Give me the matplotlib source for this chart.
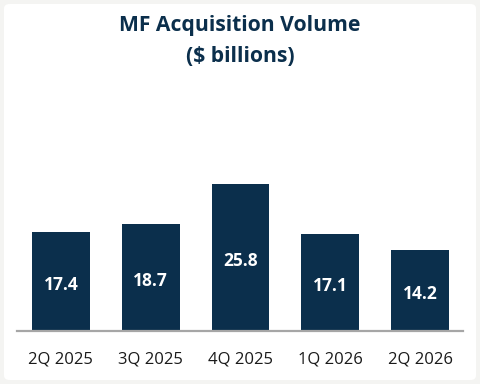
import matplotlib.pyplot as plt
from matplotlib.patches import FancyBboxPatch

quarters = ["2Q 2025", "3Q 2025", "4Q 2025", "1Q 2026", "2Q 2026"]
volume = [17.4, 18.7, 25.8, 17.1, 14.2]

navy = "#0b2f4c"
plt.rcParams['font.family'] = ['Open Sans', 'DejaVu Sans']

fig = plt.figure(figsize=(4.8, 3.84), dpi=100)
fig.patch.set_facecolor("#f4f4f2")

# white card behind the chart
card = FancyBboxPatch((4 / 480, 4 / 384), 472 / 480, 376 / 384,
                      boxstyle="round,pad=0,rounding_size=0.012",
                      transform=fig.transFigure, facecolor="white",
                      edgecolor="none", zorder=-5)
fig.patches.append(card)

fig.text(0.5, 1 - 26 / 384, "MF Acquisition Volume", ha="center", va="center",
         fontsize=15.2, fontweight="bold", color=navy)
fig.text(0.5, 1 - 57 / 384, "($ billions)", ha="center", va="center",
         fontsize=15.2, fontweight="bold", color=navy)

ax = fig.add_axes([17 / 480, 53 / 384, 446 / 480, 171 / 384])
ax.set_facecolor("none")
x = range(len(quarters))
ax.bar(x, volume, width=0.644, color=navy)
for i, v in zip(x, volume):
    ax.annotate(f"{v:.1f}", (i, v / 2), xytext=(0, -2.5), textcoords="offset points",
                ha="center", va="center", color="white",
                fontsize=12.5, fontweight="bold")

ax.set_xlim(-0.489, 4.478)
ax.set_ylim(0, 30)
ax.set_xticks(list(x))
ax.set_xticklabels(quarters, fontsize=12, color="#1a1a1a")
ax.tick_params(axis="x", length=0, pad=15)
ax.set_yticks([])
for s in ["top", "right", "left"]:
    ax.spines[s].set_visible(False)
ax.spines["bottom"].set_color("#a6a6a6")
ax.spines["bottom"].set_linewidth(1.6)

fig.savefig("out.png", dpi=100, facecolor=fig.get_facecolor())
